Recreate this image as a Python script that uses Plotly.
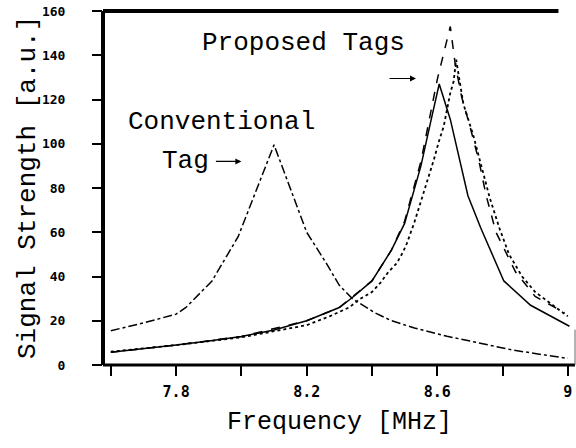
import plotly.graph_objects as go

# ---- data ----
conv_f = [7.6, 7.7, 7.8, 7.83, 7.91, 7.99, 8.1, 8.2, 8.26, 8.3, 8.34, 8.41, 8.46, 8.53, 8.63, 8.73, 8.83, 8.93, 9.0]
conv_v = [15.5, 19, 23, 26, 38, 58, 99.5, 60, 46, 36, 30, 23.5, 20, 16.7, 13, 10, 6.8, 4.5, 3]

solid_f = [7.6, 7.7, 7.8, 7.9, 8.0, 8.1, 8.2, 8.3, 8.34, 8.4, 8.46, 8.5, 8.55, 8.58, 8.606, 8.64, 8.694, 8.733, 8.804, 8.886, 9.005]
solid_v = [5.8, 7.3, 9.0, 10.8, 12.9, 15.8, 20, 26, 30.5, 38, 52, 64, 90, 110, 127, 111, 76.5, 62, 38, 27, 17.5]

dashed_f = [7.6, 7.8, 8.0, 8.2, 8.3, 8.4, 8.46, 8.5, 8.55, 8.6, 8.64, 8.655, 8.675, 8.70, 8.728, 8.75, 8.78, 8.84, 8.90, 8.99]
dashed_v = [5.8, 9.0, 12.9, 20, 26, 38, 52, 65, 92, 129, 153, 136, 121, 108, 92, 76.5, 60, 42, 31, 23.6]

dotted_f = [7.6, 7.8, 8.0, 8.2, 8.27, 8.33, 8.36, 8.40, 8.425, 8.45, 8.476, 8.495, 8.507, 8.53, 8.55, 8.57, 8.59, 8.605, 8.62, 8.64, 8.65, 8.658,
            8.68, 8.71, 8.735, 8.76, 8.79, 8.82, 8.86, 8.9, 9.0]
dotted_v = [6, 9, 12.5, 18, 22, 26, 29.5, 33, 37, 42, 46, 51, 55, 64.5, 74, 83, 93, 101, 108, 123, 128, 138,
            118, 104, 90, 76, 62, 50, 40, 33, 22]

x_tick_vals = [7.6, 7.8, 8.0, 8.2, 8.4, 8.6, 8.8, 9.0]
x_tick_text = ["", "7.8", "", "8.2", "", "8.6", "", "9"]
y_tick_vals = [0, 20, 40, 60, 80, 100, 120, 140, 160]
y_tick_text = ["0", "20", "40", "60", "80", "100", "120", "140", "160"]

MONO = "Liberation Mono, Courier New, monospace"
TICKFONT = "DejaVu Sans Mono"

fig = go.Figure()
fig.add_trace(go.Scatter(x=conv_f, y=conv_v, mode="lines",
                         line=dict(color="black", width=1.5, dash="dashdot")))
fig.add_trace(go.Scatter(x=solid_f, y=solid_v, mode="lines",
                         line=dict(color="black", width=1.5)))
fig.add_trace(go.Scatter(x=dashed_f, y=dashed_v, mode="lines",
                         line=dict(color="black", width=1.5, dash="dash")))
fig.add_trace(go.Scatter(x=dotted_f, y=dotted_v, mode="lines",
                         line=dict(color="black", width=1.8, dash="dot")))

fig.update_layout(
    width=576, height=448,
    margin=dict(l=103, r=1, t=11, b=83),
    paper_bgcolor="white", plot_bgcolor="white",
    showlegend=False,
    xaxis=dict(range=[7.576, 9.022], showgrid=False, zeroline=False, showline=False,
               tickvals=x_tick_vals, ticktext=x_tick_text,
               ticks="outside", ticklen=10, tickwidth=1.5, tickcolor="black",
               ticklabelstandoff=3,
               tickfont=dict(family=TICKFONT, size=15, color="black", weight="bold")),
    yaxis=dict(range=[0, 160], showgrid=False, zeroline=False, showline=False,
               tickvals=y_tick_vals, ticktext=y_tick_text,
               ticks="outside", ticklen=10, tickwidth=1.5, tickcolor="black",
               ticklabelstandoff=24,
               tickfont=dict(family=TICKFONT, size=13, color="black", weight="bold")),
)

# frame
fig.add_shape(type="line", xref="paper", yref="paper", x0=0, x1=0, y0=0, y1=1,
              line=dict(color="black", width=4))
fig.add_shape(type="line", xref="paper", yref="paper", x0=0, x1=1, y0=0, y1=0,
              line=dict(color="black", width=3))
fig.add_shape(type="line", xref="paper", yref="paper", x0=0, x1=0.965, y0=1, y1=1,
              line=dict(color="black", width=4))
fig.add_shape(type="line", xref="paper", yref="paper", x0=1, x1=1, y0=0, y1=0.1,
              line=dict(color="#666", width=1))

# axis titles
fig.add_annotation(text="Frequency [MHz]", xref="paper", yref="paper",
                   x=0.5, y=0, yshift=-57, showarrow=False,
                   xanchor="center", yanchor="middle",
                   font=dict(family=MONO, size=25, color="black"))
fig.add_annotation(text="Signal Strength [a.u.]", xref="paper", yref="paper",
                   x=0, xshift=-75, y=0.5, textangle=-90, showarrow=False,
                   xanchor="center", yanchor="middle",
                   font=dict(family=MONO, size=26, color="black"))

# in-plot labels
fig.add_annotation(text="Proposed Tags", x=8.19, y=145.5, showarrow=False,
                   xanchor="center", yanchor="middle",
                   font=dict(family=MONO, size=26, color="black"))
fig.add_annotation(text="Conventional", x=7.94, y=110, showarrow=False,
                   xanchor="center", yanchor="middle",
                   font=dict(family=MONO, size=26, color="black"))
fig.add_annotation(text="Tag", x=7.83, y=92, showarrow=False,
                   xanchor="center", yanchor="middle",
                   font=dict(family=MONO, size=26, color="black"))
# arrows
fig.add_annotation(x=8.535, y=129.5, ax=-28, ay=0, text="", showarrow=True,
                   arrowhead=2, arrowsize=1, arrowwidth=1.2, arrowcolor="black")
fig.add_annotation(x=8.0, y=92, ax=-27, ay=0, text="", showarrow=True,
                   arrowhead=2, arrowsize=1, arrowwidth=1.2, arrowcolor="black")

fig.write_html("out.html")
